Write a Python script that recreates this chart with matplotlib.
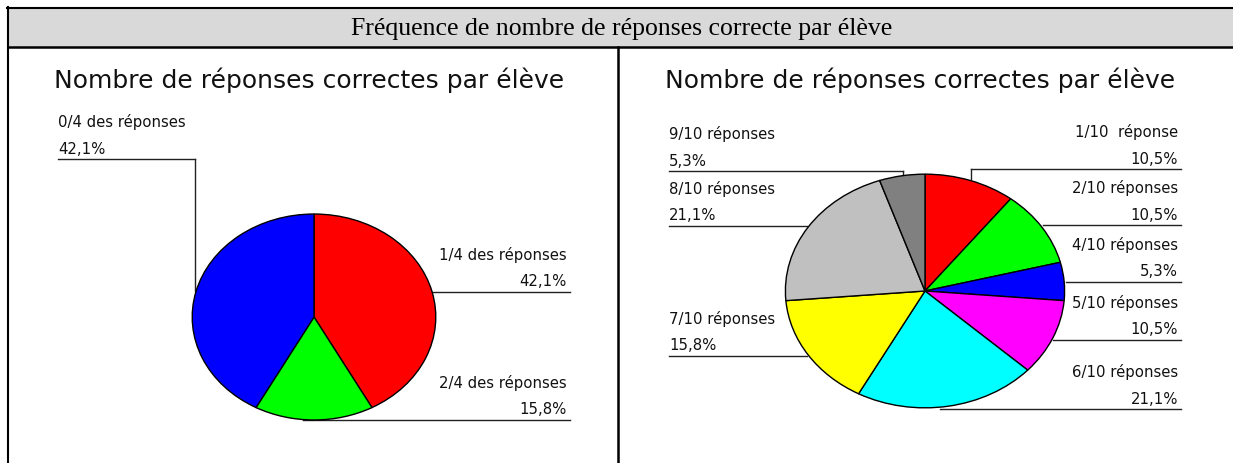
import matplotlib
matplotlib.use('Agg')
import matplotlib.pyplot as plt
from matplotlib.patches import Rectangle


# data: counts of students (19 in total) per number of correct answers
header = "Fréquence de nombre de réponses correcte par élève"
chart_title = "Nombre de réponses correctes par élève"

left_labels = ["1/4 des réponses", "2/4 des réponses", "0/4 des réponses"]
left_counts = [8, 3, 8]
left_colors = ["#ff0000", "#00ff00", "#0000ff"]

right_labels = ["1/10  réponse", "2/10 réponses", "4/10 réponses", "5/10 réponses",
                "6/10 réponses", "7/10 réponses", "8/10 réponses", "9/10 réponses"]
right_counts = [2, 2, 1, 2, 4, 3, 4, 1]
right_colors = ["#ff0000", "#00ff00", "#0000ff", "#ff00ff",
                "#00ffff", "#ffff00", "#c0c0c0", "#808080"]


def pct_text(counts):
    tot = sum(counts)
    return [("%.1f%%" % (100.0 * c / tot)).replace(".", ",") for c in counts]


# leader lines, in pixel coords of the page (y going down)
# (line y, x start, x end, side of the text, vertical to pie: (x, y end) or None)
left_layout = [
    (292, 433, 570, "right", None),
    (420, 303, 570, "right", None),
    (159, 58, 195, "left", (195, 291)),
]
right_layout = [
    (169, 971, 1181, "right", (971, 179)),
    (225, 1043, 1181, "right", None),
    (282, 1066, 1181, "right", None),
    (340, 1053, 1181, "right", None),
    (409, 940, 1181, "right", None),
    (356, 669, 807, "left", None),
    (226, 669, 807, "left", None),
    (171, 669, 903, "left", (903, 175)),
]

W, H = 1233, 463
fig = plt.figure(figsize=(W / 100, H / 100), dpi=100)
fig.patch.set_facecolor("white")

# page axes in pixel units
bg = fig.add_axes([0, 0, 1, 1])
bg.set_xlim(0, W)
bg.set_ylim(H, 0)
bg.axis("off")

# table frame
bg.add_patch(Rectangle((8, 8), W - 8, 39, facecolor="#d9d9d9", edgecolor="none"))
bg.plot([7, W], [7.5, 7.5], color="black", lw=1.5)
bg.plot([8, 8], [7, H], color="black", lw=1.5)
bg.plot([8, W], [47, 47], color="black", lw=1.8)
bg.plot([618, 618], [47, H], color="black", lw=1.8)

bg.text(622, 29, header, ha="center", va="center", fontsize=18.5,
        family="Liberation Serif", color="black")
bg.text(309, 80, chart_title, ha="center", va="center", fontsize=18,
        family="DejaVu Sans", color="#111111")
bg.text(920, 80, chart_title, ha="center", va="center", fontsize=18,
        family="DejaVu Sans", color="#111111")


def draw_pie(box, counts, colors):
    x0, y0, x1, y1 = box
    ax = fig.add_axes([x0 / W, 1 - y1 / H, (x1 - x0) / W, (y1 - y0) / H])
    ax.pie(counts, colors=colors, startangle=90, counterclock=False, radius=1,
           wedgeprops=dict(edgecolor="black", linewidth=1.0))
    ax.set_aspect("auto")
    ax.set_xlim(-1.01, 1.01)
    ax.set_ylim(-1.01, 1.01)
    ax.axis("off")


def draw_labels(labels, counts, layout):
    for lab, pct, (ly, xa, xb, side, vert) in zip(labels, pct_text(counts), layout):
        bg.plot([xa, xb], [ly, ly], color="#222222", lw=1.0)
        if vert is not None:
            bg.plot([vert[0], vert[0]], [ly, vert[1]], color="#222222", lw=1.0)
        if side == "left":
            tx, ha = xa, "left"
        else:
            tx, ha = xb - 3, "right"
        bg.text(tx, ly - 37, lab, ha=ha, va="center", fontsize=10.7, family="DejaVu Sans", color="#111111")
        bg.text(tx, ly - 10, pct, ha=ha, va="center", fontsize=10.7, family="DejaVu Sans", color="#111111")


draw_pie((191, 213, 437, 421), left_counts, left_colors)
draw_pie((784, 173, 1066, 409), right_counts, right_colors)
draw_labels(left_labels, left_counts, left_layout)
draw_labels(right_labels, right_counts, right_layout)

fig.savefig("out.png", dpi=100, facecolor="white")
